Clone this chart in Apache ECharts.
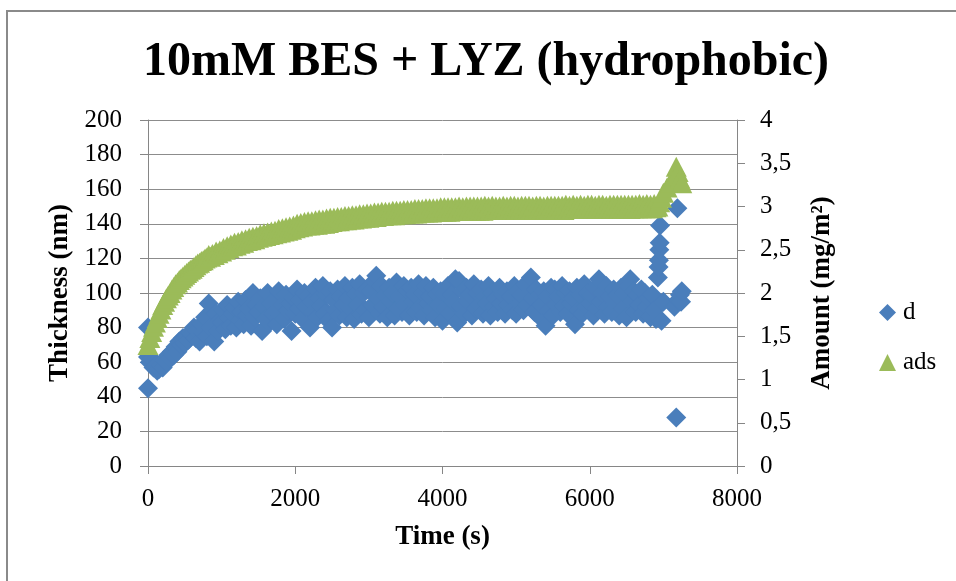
<!DOCTYPE html>
<html>
<head>
<meta charset="utf-8">
<script src="https://cdn.jsdelivr.net/npm/echarts@6/dist/echarts.min.js"></script>
<style>
  html, body { margin: 0; padding: 0; background: #ffffff; }
  #chart { width: 956px; height: 581px; }
</style>
</head>
<body>
<div id="chart"></div>
<script>
// Sampling times (s) of the main recording, every 25 s
const times = [
  0, 25, 50, 75, 100, 125, 150, 175, 200, 225, 250, 275, 300, 325, 350, 375, 400, 425, 450, 475,
  500, 525, 550, 575, 600, 625, 650, 675, 700, 725, 750, 775, 800, 825, 850, 875, 900, 925, 950, 975,
  1000, 1025, 1050, 1075, 1100, 1125, 1150, 1175, 1200, 1225, 1250, 1275, 1300, 1325, 1350, 1375, 1400, 1425, 1450, 1475,
  1500, 1525, 1550, 1575, 1600, 1625, 1650, 1675, 1700, 1725, 1750, 1775, 1800, 1825, 1850, 1875, 1900, 1925, 1950, 1975,
  2000, 2025, 2050, 2075, 2100, 2125, 2150, 2175, 2200, 2225, 2250, 2275, 2300, 2325, 2350, 2375, 2400, 2425, 2450, 2475,
  2500, 2525, 2550, 2575, 2600, 2625, 2650, 2675, 2700, 2725, 2750, 2775, 2800, 2825, 2850, 2875, 2900, 2925, 2950, 2975,
  3000, 3025, 3050, 3075, 3100, 3125, 3150, 3175, 3200, 3225, 3250, 3275, 3300, 3325, 3350, 3375, 3400, 3425, 3450, 3475,
  3500, 3525, 3550, 3575, 3600, 3625, 3650, 3675, 3700, 3725, 3750, 3775, 3800, 3825, 3850, 3875, 3900, 3925, 3950, 3975,
  4000, 4025, 4050, 4075, 4100, 4125, 4150, 4175, 4200, 4225, 4250, 4275, 4300, 4325, 4350, 4375, 4400, 4425, 4450, 4475,
  4500, 4525, 4550, 4575, 4600, 4625, 4650, 4675, 4700, 4725, 4750, 4775, 4800, 4825, 4850, 4875, 4900, 4925, 4950, 4975,
  5000, 5025, 5050, 5075, 5100, 5125, 5150, 5175, 5200, 5225, 5250, 5275, 5300, 5325, 5350, 5375, 5400, 5425, 5450, 5475,
  5500, 5525, 5550, 5575, 5600, 5625, 5650, 5675, 5700, 5725, 5750, 5775, 5800, 5825, 5850, 5875, 5900, 5925, 5950, 5975,
  6000, 6025, 6050, 6075, 6100, 6125, 6150, 6175, 6200, 6225, 6250, 6275, 6300, 6325, 6350, 6375, 6400, 6425, 6450, 6475,
  6500, 6525, 6550, 6575, 6600, 6625, 6650, 6675, 6700, 6725, 6750, 6775, 6800, 6825, 6850, 6875, 6900
];

// Layer thickness d (nm)
const thickness = [
  63, 60, 62, 57, 58, 55, 56, 58, 57, 61, 60, 64, 62, 66, 64, 69, 66, 72, 70, 74,
  71, 75, 73, 77, 76, 80, 74, 78, 72, 82, 77, 86, 75, 94, 80, 90, 72, 88, 78, 84,
  83, 90, 79, 93, 86, 81, 88, 92, 80, 95, 84, 89, 82, 96, 87, 91, 81, 100, 86, 93,
  89, 97, 78, 92, 85, 100, 83, 94, 88, 96, 82, 101, 87, 93, 85, 99, 90, 94, 78, 97,
  88, 102, 91, 96, 85, 100, 92, 98, 80, 95, 89, 103, 86, 97, 92, 104, 88, 99, 84, 101,
  80, 96, 90, 102, 87, 98, 93, 104, 86, 97, 91, 103, 85, 99, 93, 105, 88, 100, 90, 102,
  86, 101, 93, 107, 110, 97, 88, 104, 92, 99, 86, 103, 95, 100, 87, 106, 91, 98, 89, 104,
  93, 101, 87, 103, 95, 99, 89, 105, 92, 100, 87, 104, 94, 98, 90, 103, 86, 99, 93, 101,
  84, 100, 91, 104, 88, 99, 95, 108, 83, 107, 92, 101, 88, 103, 95, 99, 87, 105, 91, 100,
  93, 102, 88, 98, 94, 104, 87, 100, 92, 97, 89, 103, 94, 99, 88, 101, 93, 98, 90, 104,
  88, 101, 94, 99, 90, 105, 93, 100, 109, 97, 89, 102, 87, 99, 93, 101, 81, 98, 90, 103,
  87, 102, 93, 98, 89, 104, 92, 100, 88, 101, 94, 97, 82, 103, 90, 99, 88, 105, 92, 100,
  94, 99, 87, 103, 91, 108, 95, 100, 88, 104, 92, 98, 89, 102, 94, 99, 87, 103, 91, 100,
  86, 104, 108, 95, 101, 89, 99, 93, 102, 88, 100, 92, 97, 86, 99, 90, 85
];

// Adsorbed amount (mg/m2)
const amount = [
  1.40, 1.48, 1.55, 1.61, 1.66, 1.71, 1.76, 1.81, 1.86, 1.90, 1.94, 1.97, 2.00, 2.04, 2.07, 2.10, 2.12, 2.15, 2.17, 2.19,
  2.21, 2.23, 2.25, 2.27, 2.28, 2.30, 2.32, 2.34, 2.35, 2.37, 2.38, 2.40, 2.41, 2.44, 2.42, 2.45, 2.44, 2.48, 2.46, 2.49,
  2.48, 2.52, 2.50, 2.54, 2.52, 2.56, 2.54, 2.58, 2.55, 2.59, 2.57, 2.61, 2.58, 2.62, 2.60, 2.64, 2.61, 2.65, 2.62, 2.66,
  2.64, 2.68, 2.65, 2.69, 2.66, 2.70, 2.67, 2.71, 2.68, 2.72, 2.69, 2.74, 2.70, 2.75, 2.71, 2.76, 2.72, 2.77, 2.73, 2.78,
  2.75, 2.80, 2.76, 2.81, 2.77, 2.82, 2.78, 2.83, 2.78, 2.83, 2.79, 2.84, 2.79, 2.85, 2.80, 2.85, 2.80, 2.86, 2.81, 2.87,
  2.82, 2.87, 2.83, 2.88, 2.83, 2.88, 2.84, 2.89, 2.84, 2.89, 2.85, 2.90, 2.85, 2.90, 2.86, 2.91, 2.86, 2.91, 2.87, 2.92,
  2.87, 2.92, 2.88, 2.93, 2.88, 2.93, 2.89, 2.94, 2.89, 2.94, 2.90, 2.94, 2.90, 2.95, 2.90, 2.95, 2.91, 2.95, 2.91, 2.96,
  2.91, 2.96, 2.92, 2.96, 2.92, 2.97, 2.92, 2.97, 2.93, 2.97, 2.93, 2.98, 2.93, 2.98, 2.93, 2.98, 2.94, 2.98, 2.94, 2.99,
  2.94, 2.99, 2.94, 2.99, 2.94, 2.99, 2.95, 2.99, 2.95, 3.00, 2.95, 2.99, 2.95, 3.00, 2.95, 3.00, 2.95, 3.00, 2.95, 3.00,
  2.95, 3.00, 2.95, 3.01, 2.96, 3.00, 2.96, 3.01, 2.96, 3.00, 2.96, 3.00, 2.96, 3.01, 2.96, 3.00, 2.96, 3.01, 2.96, 3.01,
  2.96, 3.00, 2.96, 3.01, 2.96, 3.01, 2.96, 3.01, 2.97, 3.00, 2.96, 3.01, 2.97, 3.01, 2.97, 3.00, 2.96, 3.01, 2.97, 3.01,
  2.96, 3.01, 2.97, 3.01, 2.97, 3.01, 2.96, 3.02, 2.97, 3.01, 2.97, 3.02, 2.97, 3.01, 2.97, 3.02, 2.97, 3.01, 2.97, 3.02,
  2.97, 3.02, 2.97, 3.01, 2.97, 3.02, 2.97, 3.02, 2.98, 3.01, 2.97, 3.02, 2.98, 3.02, 2.97, 3.02, 2.98, 3.02, 2.97, 3.02,
  2.98, 3.02, 2.97, 3.02, 2.98, 3.02, 2.98, 3.03, 2.98, 3.02, 2.98, 3.03, 2.98, 3.02, 2.98, 3.03, 2.99
];

// Extra thickness readings: start-up spread and the end of the run
const thicknessExtraTimes = [0, 0, 6925, 6935, 6940, 6945, 6950, 6955, 6975, 7000, 7150, 7175, 7190, 7200, 7225, 7240, 7250];
const thicknessExtra      = [45, 80, 109, 115, 119, 125, 129, 139, 84, 95, 92, 28, 149, 96, 99, 95, 101];

// Amount readings at the end of the run
const amountTailTimes = [6925, 6950, 6975, 7000, 7050, 7100, 7150, 7175, 7200, 7225, 7250];
const amountTail      = [3.00, 3.05, 3.10, 3.16, 3.22, 3.28, 3.36, 3.46, 3.40, 3.32, 3.27];

// Axis ranges and tick steps
const timeTicks = { min: 0, max: 8000, step: 2000 };
const thicknessTicks = { min: 0, max: 200, step: 20 };
const amountTicks = { min: 0, max: 4, step: 0.5 };

const SERIF = '"Liberation Serif", "Times New Roman", serif';
const AXIS_GREY = '#868686';
const GRID_GREY = '#8c8c8c';
const BLUE = '#4a7ebb';
const GREEN = '#9bbb59';

const toPairs = (xs, ys) => xs.map((x, i) => [x, ys[i]]);

const dPoints = toPairs(thicknessExtraTimes.slice(0, 2), thicknessExtra.slice(0, 2))
  .concat(toPairs(times, thickness))
  .concat(toPairs(thicknessExtraTimes.slice(2), thicknessExtra.slice(2)));
const adsPoints = toPairs(times, amount).concat(toPairs(amountTailTimes, amountTail));

const axisCommon = {
  axisLine: { show: true, lineStyle: { color: AXIS_GREY, width: 1 } },
  axisTick: { show: true, inside: false, length: 8, lineStyle: { color: AXIS_GREY, width: 1 } },
  axisLabel: { color: '#000', fontFamily: SERIF, fontSize: 25 },
  nameTextStyle: { color: '#000', fontFamily: SERIF, fontSize: 27, fontWeight: 'bold' }
};

const chart = echarts.init(document.getElementById('chart'), null, { renderer: 'canvas' });

chart.setOption({
  animation: false,
  backgroundColor: '#ffffff',
  title: {
    text: '10mM BES + LYZ (hydrophobic)',
    left: 486,
    top: 39,
    padding: 0,
    textAlign: 'center',
    textStyle: { color: '#000', fontFamily: SERIF, fontSize: 48, fontWeight: 'bold' }
  },
  graphic: [{
    type: 'rect',
    shape: { x: 7, y: 11, width: 980, height: 600 },
    style: { fill: 'none', stroke: '#8a8a8a', lineWidth: 2 },
    silent: true,
    z: -1
  }],
  legend: {
    orient: 'vertical',
    left: 879,
    top: 300,
    padding: 0,
    itemWidth: 17,
    itemHeight: 17,
    itemGap: 25,
    textStyle: { color: '#000', fontFamily: SERIF, fontSize: 25, padding: [0, 0, 0, 2] },
    data: [
      { name: 'd', icon: 'diamond' },
      { name: 'ads', icon: 'triangle' }
    ]
  },
  grid: { left: 148, top: 120, width: 589, height: 346, containLabel: false },
  xAxis: Object.assign({}, axisCommon, {
    type: 'value',
    min: timeTicks.min,
    max: timeTicks.max,
    interval: timeTicks.step,
    splitLine: { show: false },
    axisLabel: Object.assign({}, axisCommon.axisLabel, { margin: 21, formatter: v => String(v) }),
    name: 'Time (s)',
    nameLocation: 'middle',
    nameGap: 58
  }),
  yAxis: [
    Object.assign({}, axisCommon, {
      type: 'value',
      position: 'left',
      min: thicknessTicks.min,
      max: thicknessTicks.max,
      interval: thicknessTicks.step,
      splitLine: { show: true, lineStyle: { color: GRID_GREY, width: 1 } },
      axisLabel: Object.assign({}, axisCommon.axisLabel, { margin: 26, formatter: v => String(v) }),
      name: 'Thickness (nm)',
      nameLocation: 'middle',
      nameGap: 72
    }),
    Object.assign({}, axisCommon, {
      type: 'value',
      position: 'right',
      min: amountTicks.min,
      max: amountTicks.max,
      interval: amountTicks.step,
      splitLine: { show: false },
      axisLabel: Object.assign({}, axisCommon.axisLabel, {
        margin: 23,
        formatter: v => String(v).replace('.', ',')
      }),
      name: 'Amount (mg/m²)',
      nameLocation: 'middle',
      nameGap: 72
    })
  ],
  series: [
    {
      name: 'd',
      type: 'scatter',
      yAxisIndex: 0,
      symbol: 'diamond',
      symbolSize: 20,
      itemStyle: { color: BLUE, opacity: 1 },
      data: dPoints
    },
    {
      name: 'ads',
      type: 'scatter',
      yAxisIndex: 1,
      symbol: 'triangle',
      symbolSize: [21, 20],
      itemStyle: { color: GREEN, opacity: 1 },
      data: adsPoints
    }
  ]
});
</script>
</body>
</html>
